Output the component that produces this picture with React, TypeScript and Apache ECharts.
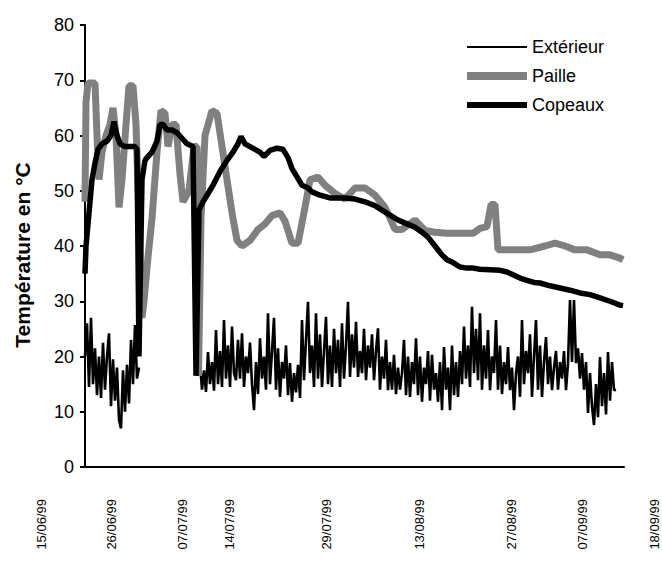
import React, { useEffect, useRef } from "react";
import * as echarts from "echarts";

// ---- axis labels (positions are along the plotted axis, in the same units as the data x) ----
const xTickPositions: number[] = [-44, 26, 97, 144, 241, 334, 426, 497, 569];
const xTickLabels: string[] = [
  "15/06/99", "26/06/99", "07/07/99", "14/07/99", "29/07/99",
  "13/08/99", "27/08/99", "07/09/99", "18/09/99",
];
const yMin = 0;
const yMax = 80;
const yStep = 10;
const X_MAX = 539;

const seriesNames = ["Extérieur", "Paille", "Copeaux"];

// ---- Paille (straw) : [position, °C] ----
const pailleData: [number, number][] = [
  [0, 48], [1, 66], [3, 69.5], [10, 69.5], [12, 60], [14, 52], [17, 57], [21, 60],
  [25, 62], [28, 65], [31, 60], [34, 47], [37, 52], [41, 62], [44, 69], [48, 69],
  [51, 62], [54, 45], [56, 32], [57, 27], [59, 30], [63, 38], [67, 45], [72, 57],
  [76, 64.5], [80, 64], [83, 58], [87, 62], [91, 62], [95, 53], [98, 48], [104, 50],
  [109, 58], [112, 58], [113.5, 16.5], [116, 45], [120, 60], [127, 64.5], [132, 64],
  [137, 58], [142, 52], [147, 46], [152, 41], [157, 40], [165, 41], [173, 43],
  [180, 44], [187, 45.5], [195, 46], [200, 44.5], [207, 40.5], [213, 40.5], [220, 47],
  [225, 52], [233, 52.5], [240, 51], [250, 49.5], [260, 48.5], [270, 50.5], [280, 50.5],
  [290, 49.2], [300, 47], [310, 43], [317, 43], [330, 44.7], [340, 42.8], [350, 42.5],
  [362, 42.3], [375, 42.3], [388, 42.3], [395, 43.2], [402, 43.5], [406, 47.5],
  [410, 47.5], [413, 39.3], [425, 39.3], [445, 39.3], [460, 40], [470, 40.5], [480, 40],
  [490, 39.3], [502, 39.3], [515, 38.4], [525, 38.4], [535, 37.8], [538, 37.5],
];

// ---- Copeaux (wood shavings) : [position, °C] ----
const copeauxData: [number, number][] = [
  [0, 35], [1, 40], [3, 44], [5, 48], [7, 52], [10, 55], [13, 57.5], [17, 58.5],
  [22, 59], [26, 60], [29, 62.5], [32, 60], [35, 58.5], [40, 58], [45, 58], [50, 58],
  [52, 57.5], [54, 20], [57, 52], [60, 55.5], [62, 56], [67, 57], [72, 59], [75, 62],
  [78, 62], [82, 61], [87, 61], [92, 60.5], [97, 59.5], [102, 58.5], [108, 58],
  [111, 16.5], [114, 46.5], [118, 48], [123, 49.5], [128, 51], [135, 53.5], [142, 55.5],
  [148, 57], [153, 58.5], [156, 59.8], [160, 58.5], [165, 58], [170, 57.5], [175, 57],
  [179, 56.2], [185, 57.3], [192, 57.7], [198, 57.5], [203, 56], [207, 54], [212, 52.5],
  [217, 51], [223, 50.5], [227, 49.8], [235, 49.2], [245, 48.7], [260, 48.7], [270, 48.5],
  [280, 48], [290, 47.3], [297, 46.5], [305, 45.6], [313, 44.7], [322, 44], [330, 43.4],
  [337, 42.5], [343, 41.6], [350, 40], [357, 38.4], [362, 37.5], [368, 37], [375, 36.2],
  [382, 36], [388, 36], [395, 35.8], [405, 35.7], [415, 35.6], [422, 35.3], [428, 34.8],
  [435, 34.2], [442, 33.8], [449, 33.4], [455, 33.3], [465, 32.8], [475, 32.4], [485, 32],
  [495, 31.5], [505, 31.2], [515, 30.6], [525, 30], [535, 29.3], [538, 29.2],
];

// ---- Extérieur (outside) : regular samples, two recorded stretches ----
const EXT_STEP = 2;
const EXT_A_START = 0;
const exterieurA: number[] = [
  20, 26, 14.5, 27, 15, 21.5, 13, 20, 12.5, 22.5,
  14, 20, 24.2, 11, 19.5, 12, 18, 8.5, 7, 17.5,
  10, 18.5, 11.5, 23, 15, 25.7, 16, 18,
];
const EXT_B_START = 113;
const exterieurB: number[] = [
  16.5, 18.8, 14, 17.5, 13.6, 20.8, 15, 19, 13.8, 24.8,
  15, 21, 14.5, 26.6, 16, 22, 14.5, 25.4, 17, 15.7,
  23, 16, 24.2, 14.5, 20, 17, 22.5, 15, 10.3, 19,
  13.2, 23.3, 16, 20, 14, 27.8, 15, 21, 27, 14,
  21.5, 12.7, 19, 16, 22, 13, 18.8, 11.8, 17, 13.5,
  18.5, 12.5, 26.6, 15.7, 23, 29.9, 17, 22, 14.5, 27.8,
  16, 24, 14.5, 21, 27.2, 15, 22, 14.5, 25, 17,
  23, 14.5, 26, 16, 22, 29.9, 16.3, 24, 18, 26.3,
  16.3, 21, 17, 25, 15.7, 22, 18, 24, 15.7, 21,
  25.1, 14, 20, 16, 23, 13.9, 19, 14, 20.3, 13.2,
  18, 14, 17, 23, 13, 20, 12.7, 19, 15, 23.3,
  13, 20, 11.8, 18, 15, 21, 12, 20.3, 14, 17,
  11.8, 19, 10.3, 21.7, 14, 18, 10.3, 22, 13, 19,
  12.7, 21, 15, 25.4, 16, 22, 14.5, 29, 17, 25,
  15.7, 27.8, 14, 22, 16, 24.8, 13.9, 20, 17, 26.6,
  14, 22, 13.2, 19, 15, 21.7, 13.9, 18, 10.3, 17,
  20, 12.7, 26.6, 15, 21, 17, 24, 12.7, 20, 26.6,
  14, 22, 12.7, 19, 23.5, 15, 20, 13.9, 18, 21,
  14, 19, 16, 21, 13.9, 18.8, 30.2, 19, 30.2, 18.8,
  21.5, 16, 20.6, 14, 19, 9.8, 17, 11, 7.6, 15,
  9, 19.9, 11, 17, 9.5, 20.8, 12, 19, 13.9, 14,
];

const FONT = "'Liberation Sans', Arial, Helvetica, sans-serif";

function buildExterieur(): (number | null)[][] {
  const a = exterieurA.map((v, i) => [EXT_A_START + i * EXT_STEP, v]);
  const gapX = EXT_A_START + exterieurA.length * EXT_STEP;
  const b = exterieurB.map((v, i) => [EXT_B_START + i * EXT_STEP, v]);
  return [...a, [gapX, null], ...b];
}

export default function App() {
  const ref = useRef<HTMLDivElement>(null);

  useEffect(() => {
    if (!ref.current) return;
    const chart = echarts.init(ref.current, undefined, { renderer: "svg" });
    const option: any = {
      animation: false,
      backgroundColor: "#ffffff",
      textStyle: { fontFamily: FONT },
      legend: {
        orient: "vertical",
        left: 462,
        top: 33,
        itemWidth: 60,
        itemHeight: 10,
        itemGap: 11,
        symbolKeepAspect: true,
        itemStyle: { borderWidth: 0 },
        textStyle: { fontSize: 18, color: "#000", fontFamily: FONT },
        data: [
          { name: seriesNames[0], icon: "path://M0,0H60V2H0Z" },
          { name: seriesNames[1], icon: "path://M0,0H60V8H0Z" },
          { name: seriesNames[2], icon: "path://M0,0H60V6H0Z" },
        ],
      },
      grid: [
        { left: 85, right: 38, top: 25, bottom: 96 },
        { left: 35, right: 2, bottom: 96, height: 10 },
      ],
      xAxis: [
        {
          type: "value",
          gridIndex: 0,
          min: 0,
          max: X_MAX,
          axisLine: { show: true, onZero: false, lineStyle: { color: "#000", width: 2 } },
          axisTick: { show: false },
          axisLabel: { show: false },
          splitLine: { show: false },
        },
        {
          type: "value",
          gridIndex: 1,
          min: -50,
          max: 575,
          axisLine: { show: false },
          axisTick: { show: false },
          splitLine: { show: false },
          axisLabel: {
            show: true,
            customValues: xTickPositions,
            formatter: (v: number) => {
              const i = xTickPositions.indexOf(v);
              return i >= 0 ? xTickLabels[i] : "";
            },
            rotate: 90,
            fontSize: 13,
            margin: 32,
            color: "#000",
            fontFamily: FONT,
          },
        },
      ],
      yAxis: [
        {
          type: "value",
          gridIndex: 0,
          min: yMin,
          max: yMax,
          interval: yStep,
          name: "Température en °C",
          nameLocation: "middle",
          nameGap: 52,
          nameTextStyle: {
            fontSize: 21,
            fontWeight: "bold",
            color: "#000",
            fontFamily: FONT,
            padding: [0, 18, 0, 0],
          },
          axisLine: { show: true, lineStyle: { color: "#000", width: 2 } },
          axisTick: { show: true, length: 5, lineStyle: { color: "#000", width: 2 } },
          axisLabel: { fontSize: 18, color: "#000", margin: 11, fontFamily: FONT },
          splitLine: { show: false },
        },
        { type: "value", gridIndex: 1, show: false },
      ],
      series: [
        {
          name: seriesNames[0],
          type: "line",
          xAxisIndex: 0,
          yAxisIndex: 0,
          data: buildExterieur(),
          symbol: "none",
          showSymbol: false,
          connectNulls: false,
          color: "#000",
          itemStyle: { color: "#000" },
          lineStyle: { color: "#000", width: 2.6 },
          z: 2,
        },
        {
          name: seriesNames[1],
          type: "line",
          xAxisIndex: 0,
          yAxisIndex: 0,
          data: pailleData,
          symbol: "none",
          showSymbol: false,
          color: "#808080",
          itemStyle: { color: "#808080" },
          lineStyle: { color: "#808080", width: 7 },
          z: 3,
        },
        {
          name: seriesNames[2],
          type: "line",
          xAxisIndex: 0,
          yAxisIndex: 0,
          data: copeauxData,
          symbol: "none",
          showSymbol: false,
          color: "#000",
          itemStyle: { color: "#000" },
          lineStyle: { color: "#000", width: 5.5 },
          z: 4,
        },
      ],
    };
    chart.setOption(option);
    return () => chart.dispose();
  }, []);

  return (
    <div
      ref={ref}
      style={{ position: "fixed", left: 0, top: 0, width: 662, height: 563, background: "#fff" }}
    />
  );
}
